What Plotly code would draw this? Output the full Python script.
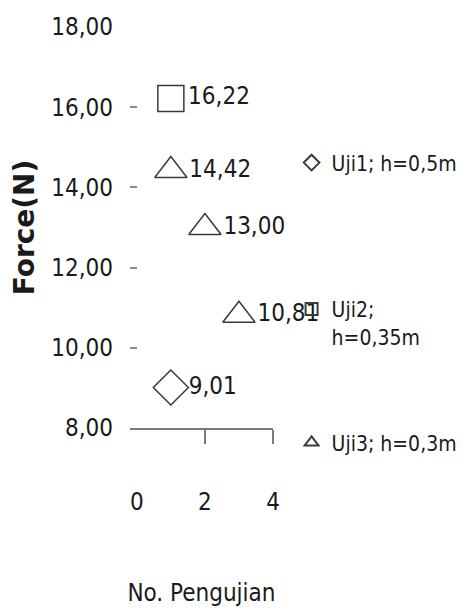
import plotly.graph_objects as go

# Data
uji1_x = [1]
uji1_y = [9.01]
uji2_x = [1]
uji2_y = [16.22]
uji3_x = [1, 2, 3]
uji3_y = [14.42, 13.00, 10.81]

series_names = ["Uji1; h=0,5m", "Uji2;<br>h=0,35m", "Uji3; h=0,3m"]
y_ticks = [8, 10, 12, 14, 16, 18]
x_ticks = [0, 2, 4]
x_tickmarks = [2, 4]

FONT = "DejaVu Sans Condensed, Liberation Sans Narrow, sans-serif"
TXT = "#1a1a1a"
MK = "#3a3a3a"
FS = 24
LFS = 21

fig = go.Figure()

fig.add_trace(go.Scatter(
    x=uji1_x, y=uji1_y, name=series_names[0], mode="markers+text",
    marker=dict(symbol="diamond-open", size=27, color=MK, line=dict(width=1.5, color=MK)),
    texttemplate="%{y:.2f}", textposition="middle right",
    textfont=dict(family=FONT, size=FS, color=TXT),
    legend="legend", showlegend=True, cliponaxis=False,
))
fig.add_trace(go.Scatter(
    x=uji2_x, y=uji2_y, name=series_names[1], mode="markers+text",
    marker=dict(symbol="square-open", size=26, color=MK, line=dict(width=1.5, color=MK)),
    texttemplate="%{y:.2f}", textposition="middle right",
    textfont=dict(family=FONT, size=FS, color=TXT),
    legend="legend2", showlegend=True, cliponaxis=False,
))
fig.add_trace(go.Scatter(
    x=uji3_x, y=uji3_y, name=series_names[2], mode="markers+text",
    marker=dict(symbol="triangle-up-open", size=28, color=MK, line=dict(width=1.5, color=MK)),
    texttemplate="%{y:.2f}", textposition="middle right",
    textfont=dict(family=FONT, size=FS, color=TXT),
    legend="legend3", showlegend=True, cliponaxis=False,
))

legend_common = dict(
    font=dict(family=FONT, size=LFS, color=TXT),
    bgcolor="rgba(0,0,0,0)", borderwidth=0,
    itemsizing="constant", xanchor="left", x=1.13,
)

fig.update_layout(
    width=456, height=599,
    margin=dict(l=122, r=191, t=19, b=179, autoexpand=False),
    paper_bgcolor="white", plot_bgcolor="white",
    separators=",.",
    showlegend=True,
    font=dict(family=FONT, size=FS, color=TXT),
    legend=dict(**legend_common, y=0.661, yanchor="middle"),
    legend2=dict(**legend_common, y=0.262, yanchor="middle", valign="top"),
    legend3=dict(**legend_common, y=-0.037, yanchor="middle"),
    xaxis=dict(
        range=[-0.2, 4], tickvals=x_ticks, ticktext=[str(v) for v in x_ticks],
        showgrid=False, zeroline=False, showline=True, linecolor="#7a7a7a", linewidth=1.5,
        ticks="", ticklabelstandoff=51,
        minor=dict(tickvals=x_tickmarks, ticks="outside", ticklen=14,
                   tickcolor="#7a7a7a", tickwidth=1.5, showgrid=False),
        tickfont=dict(family=FONT, size=FS, color=TXT),
        title=dict(text="No. Pengujian", standoff=73,
                   font=dict(family=FONT, size=FS, color=TXT)),
    ),
    yaxis=dict(
        range=[8, 18], tickvals=y_ticks, tickformat=".2f",
        showgrid=False, zeroline=False, showline=False,
        ticks="inside", ticklen=7, tickcolor="#8a8a8a", tickwidth=1.5,
        ticklabelstandoff=16,
        tickfont=dict(family=FONT, size=FS, color=TXT),
        title=dict(text="Force(N)", standoff=9,
                   font=dict(family="DejaVu Sans", size=28, color=TXT, weight="bold")),
    ),
)

fig.write_html("out.html")
